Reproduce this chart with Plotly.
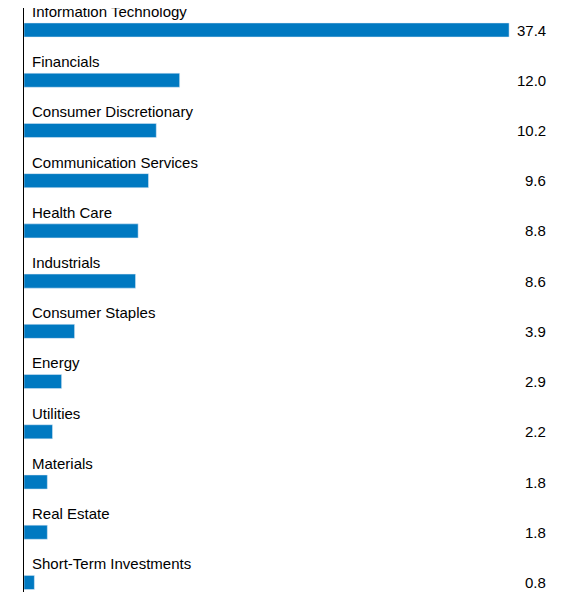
import plotly.graph_objects as go

sectors = ["Information Technology", "Financials", "Consumer Discretionary",
           "Communication Services", "Health Care", "Industrials", "Consumer Staples",
           "Energy", "Utilities", "Materials", "Real Estate", "Short-Term Investments"]
values = [37.4, 12.0, 10.2, 9.6, 8.8, 8.6, 3.9, 2.9, 2.2, 1.8, 1.8, 0.8]

pos = list(range(len(sectors)))
fig = go.Figure(go.Bar(x=values, y=pos, orientation="h", width=0.28,
                       marker_color="#0079c1", hoverinfo="skip"))

for i, (s, v) in enumerate(zip(sectors, values)):
    fig.add_annotation(x=0.45, y=i - 0.37, text=s, showarrow=False, xanchor="left",
                       yanchor="middle", font=dict(size=15, color="black"))
    fig.add_annotation(x=1, xref="paper", y=i, text=f"{v:.1f}", showarrow=False,
                       xanchor="right", yanchor="middle", font=dict(size=15, color="black"))

# page body has an 8px margin, so the figure is shifted back by that much
fig.update_layout(
    width=565, height=590, margin=dict(l=16, r=25, t=0, b=6),
    plot_bgcolor="white", paper_bgcolor="white", showlegend=False,
    font=dict(family="Liberation Sans, Arial, sans-serif"),
    xaxis=dict(range=[0, 524 / 12.97], visible=False, fixedrange=True),
    yaxis=dict(range=[11.19, -0.438], showticklabels=False, showgrid=False, zeroline=False,
               showline=True, linecolor="black", linewidth=1, ticks=""),
)
fig.write_html("out.html")
